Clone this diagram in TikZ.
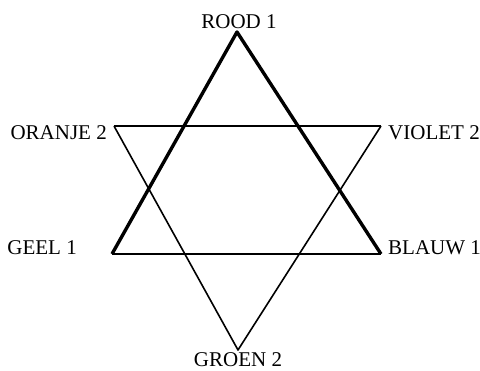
\documentclass[tikz,border=0pt]{standalone}
\usepackage{fontspec}
\setmainfont{Liberation Serif}
\usepackage{tikz}

\begin{document}
\begin{tikzpicture}[
			x=1pt, y=-1pt,
			colour/.style={
				inner sep=0pt,
				font=\fontsize{21}{24}\selectfont
			},
			heavy/.style={
				line width=3.4pt,
				line join=round
			},
			medium/.style={
				line width=2.2pt
			},
			light/.style={
				line width=1.6pt,
				line join=round
			}
			]
			\useasboundingbox (0,0) rectangle (480,371);
			% points of the star
			\coordinate (rood) at (237,32);
			\coordinate (geel) at (112,254);
			\coordinate (blauw) at (381,254);
			\coordinate (oranje) at (114,126);
			\coordinate (violet) at (381,126);
			\coordinate (groen) at (238,350);
			% labels
			\node[colour, anchor=base] (lrood) at (239,29) {ROOD 1};
			\node[colour, anchor=base east] (loranje) at (107,140) {ORANJE 2};
			\node[colour, anchor=base west] (lviolet) at (388,140) {VIOLET 2};
			\node[colour, anchor=base east] (lgeel) at (77,255) {GEEL 1};
			\node[colour, anchor=base west] (lblauw) at (388,255) {BLAUW 1};
			\node[colour, anchor=base] (lgroen) at (238,367) {GROEN 2};
			% triangles
			\draw[heavy] (geel) -- (rood) -- (blauw);
			\draw[medium] (geel) -- (blauw);
			\draw[medium] (oranje) -- (violet);
			\draw[light] (oranje) -- (groen) -- (violet);
		\end{tikzpicture}
\end{document}
